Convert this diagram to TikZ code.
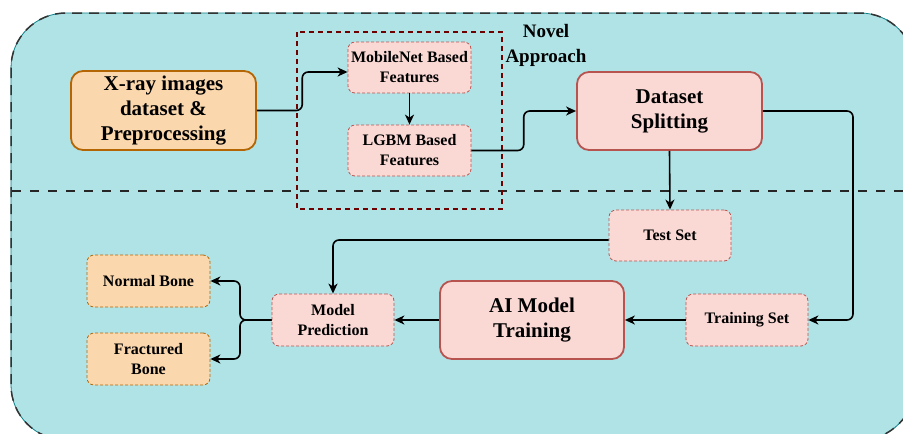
\documentclass[tikz,border=0pt]{standalone}
\usepackage{fontspec}
\setmainfont{Liberation Serif}
\usetikzlibrary{arrows.meta,calc}

\definecolor{bgfill}{HTML}{B0E3E6}
\definecolor{bgline}{HTML}{0E8088}
\definecolor{orfill}{HTML}{FAD7AC}
\definecolor{orline}{HTML}{B46504}
\definecolor{pkfill}{HTML}{FAD9D5}
\definecolor{pkline}{HTML}{B85450}
\definecolor{novline}{HTML}{6F0000}

\tikzset{
  bigfont/.style={font=\bfseries\fontsize{21}{25}\selectfont},
  smallfont/.style={font=\bfseries\fontsize{16}{20}\selectfont},
  mainorange/.style={draw=orline, fill=orfill, line width=1.8pt, rounded corners=12pt,
    align=center, inner sep=0pt, bigfont},
  mainpink/.style={draw=pkline, fill=pkfill, line width=1.8pt, rounded corners=12pt,
    align=center, inner sep=0pt, bigfont},
  subpink/.style={draw=pkline, fill=pkfill, line width=0.8pt, dash pattern=on 3pt off 2pt,
    rounded corners=7pt, align=center, inner sep=0pt, smallfont,
    minimum width=122pt, minimum height=51pt},
  suborange/.style={draw=orline, fill=orfill, line width=0.8pt, dash pattern=on 3pt off 2pt,
    rounded corners=7pt, align=center, inner sep=0pt, smallfont,
    minimum width=123pt, minimum height=52pt},
  flow/.style={draw=black, line width=1.6pt, rounded corners=6pt,
    -{Stealth[length=10pt,width=9pt,inset=3pt]}},
}

\begin{document}
\begin{tikzpicture}[x=1pt,y=-1pt]
  \useasboundingbox (0,0) rectangle (903,434);
  \clip (0,0) rectangle (903,434);

  % background panel
  \draw[fill=bgfill, draw=bgline, line width=0.8pt, rounded corners=55pt]
    (11,13) rectangle (915,440);
  \draw[draw=black!80, line width=1.5pt, dash pattern=on 10pt off 7pt, rounded corners=55pt]
    (11,13) rectangle (915,440);

  % separator between the two stages
  \draw[black!85, line width=1.5pt, dash pattern=on 9pt off 9pt] (12,191) -- (903,191);

  % novel approach frame
  \draw[novline, line width=1.5pt, dash pattern=on 5pt off 4pt] (297,32) rectangle (502,209);
  \node[font=\bfseries\fontsize{19}{25}\selectfont, align=center] (novel) at (546,45)
    {Novel\\Approach};

  % nodes
  \node[mainorange, minimum width=185pt, minimum height=79pt] (xray) at (163.5,110.5)
    {X-ray images\\dataset \&\\Preprocessing};
  \node[subpink, minimum width=123pt] (mob) at (409.5,67.5) {MobileNet Based\\Features};
  \node[subpink, minimum width=123pt] (lgbm) at (409.5,150.5) {LGBM Based\\Features};
  \node[mainpink, minimum width=185pt, minimum height=78pt] (split) at (669.5,111)
    {Dataset\\Splitting};
  \node[subpink] (test) at (670,235.5) {Test Set};
  \node[subpink, minimum height=52pt] (train) at (747,320) {Training Set};
  \node[mainpink, minimum width=184pt, minimum height=78pt] (ai) at (532,320)
    {AI Model\\Training};
  \node[subpink, minimum height=52pt] (pred) at (333,320) {Model\\Prediction};
  \node[suborange] (normal) at (148.5,281) {Normal Bone};
  \node[suborange] (fract) at (148.5,359) {Fractured\\Bone};

  % connectors
  \coordinate (mobin) at ([yshift=-4.5pt]mob.west);
  \draw[flow] (xray.east) -| ($(xray.east)!0.5!(mobin)$) |- (mobin);
  \draw[flow] (mob.south) -- (lgbm.north);
  \draw[flow] (lgbm.east) -| ($(lgbm.east)!0.5!(split.west)$) |- (split.west);
  \draw[flow] (split.south) -- (test.north);
  \coordinate (sright) at (853,111);
  \draw[flow] (split.east) -- (sright) |- (train.east);
  \draw[flow] (train.west) -- (ai.east);
  \draw[flow] (ai.west) -- (pred.east);
  \coordinate (testout) at ([yshift=-4.5pt]test.west);
  \draw[flow] (testout) -| (pred.north);
  \coordinate (fork) at (240,320);
  \draw[flow] (pred.west) -- (fork) |- (normal.east);
  \draw[flow] (pred.west) -- (fork) |- (fract.east);
\end{tikzpicture}
\end{document}
